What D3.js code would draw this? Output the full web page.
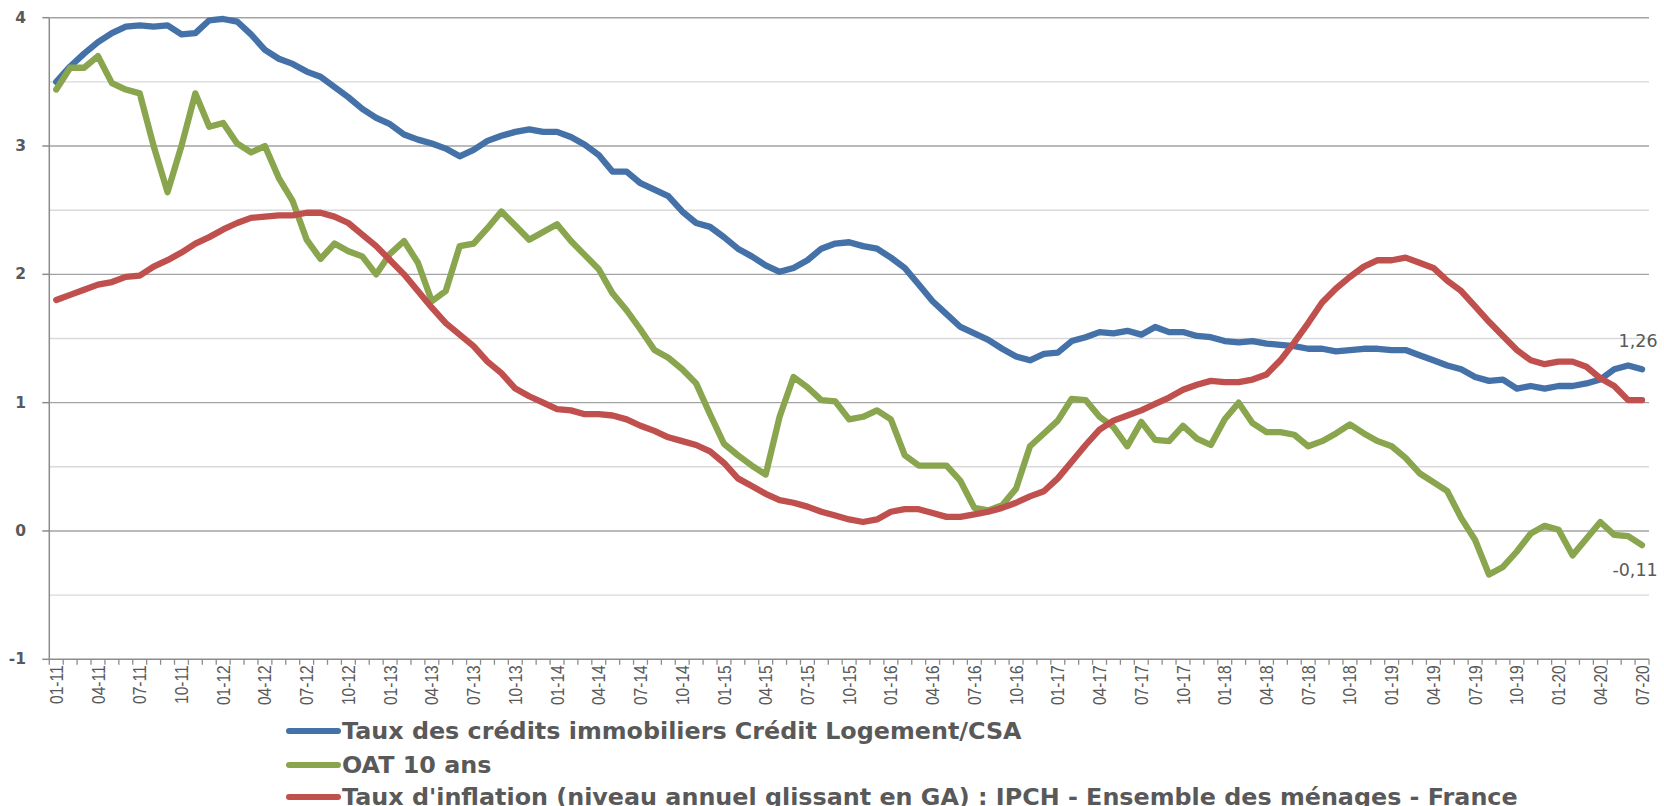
<!DOCTYPE html>
<html><head><meta charset="utf-8">
<script src="https://cdn.jsdelivr.net/npm/d3@7"></script>
<style>body{margin:0;background:#fff;} svg{display:block;}</style>
</head><body><svg id="c" width="1664" height="806"></svg>
<script>
// ---- data ----
const months = d3.timeMonth.range(new Date(2011, 0, 1), new Date(2020, 7, 1)); // 01-11 .. 07-20
const categories = months.map(d3.timeFormat("%m-%y"));
const tickLabels = categories.filter((d, i) => i % 3 === 0);

const creditRates = [3.50,3.62,3.72,3.81,3.88,3.93,3.94,3.93,3.94,3.87,3.88,3.98,3.99,3.97,3.87,3.75,3.68,3.64,3.58,3.54,
  3.46,3.38,3.29,3.22,3.17,3.09,3.05,3.02,2.98,2.92,2.97,3.04,3.08,3.11,3.13,3.11,3.11,
  3.07,3.01,2.93,2.80,2.80,2.71,2.66,2.61,2.49,2.40,2.37,2.29,2.20,2.14,2.07,2.02,2.05,2.11,2.20,2.24,
  2.25,2.22,2.20,2.13,2.05,1.92,1.79,1.69,1.59,1.54,1.49,
  1.42,1.36,1.33,1.38,1.39,1.48,1.51,
  1.55,1.54,1.56,1.53,1.59,1.55,1.55,1.52,1.51,1.48,1.47,1.48,1.46,1.45,1.44,1.42,1.42,1.40,1.41,1.42,
  1.42,1.41,1.41,1.37,1.33,1.29,1.26,1.20,1.17,1.18,1.11,1.13,1.11,1.13,1.13,1.15,1.18,1.26,1.29,1.26];

const oat10 = [3.44,3.61,3.61,3.70,3.49,3.44,3.41,3.00,2.64,3.00,3.41,3.15,3.18,3.02,2.95,3.00,2.75,2.57,2.27,2.12,
  2.24,2.18,2.14,2.00,2.16,2.26,2.09,1.79,1.87,2.22,2.24,2.36,2.49,2.38,2.27,2.33,2.39,
  2.26,2.15,2.04,1.85,1.72,1.57,
  1.41,1.35,1.26,1.15,0.91,0.68,0.59,0.51,0.44,0.89,1.20,1.12,1.02,1.01,0.87,0.89,0.94,0.87,0.59,0.51,0.51,0.51,
  0.39,0.18,0.16,0.20,0.33,0.66,0.76,0.86,1.03,1.02,0.89,
  0.81,0.66,0.85,0.71,0.70,0.82,0.72,0.67,0.87,1.00,0.84,0.77,0.77,0.75,0.66,0.70,0.76,0.83,0.76,0.70,
  0.66,0.57,0.45,0.38,0.31,0.10,-0.07,-0.34,-0.28,-0.16,-0.02,0.04,0.01,-0.19,-0.06,0.07,-0.03,-0.04,-0.11];

const inflation = [1.80,1.84,1.88,1.92,1.94,1.98,1.99,2.06,2.11,2.17,2.24,2.29,2.35,2.40,2.44,2.45,2.46,2.46,2.48,2.48,
  2.45,2.40,2.31,2.22,2.11,2.00,1.87,1.74,1.62,1.53,
  1.44,1.32,1.23,1.11,1.05,1.00,0.95,
  0.94,0.91,0.91,0.90,0.87,0.82,0.78,0.73,0.70,0.67,0.62,0.53,0.41,0.35,0.29,0.24,0.22,0.19,0.15,0.12,0.09,0.07,0.09,0.15,
  0.17,0.17,0.14,0.11,0.11,0.13,0.15,0.18,0.22,0.27,0.31,0.41,0.54,0.67,0.79,
  0.86,0.90,0.94,0.99,1.04,1.10,1.14,1.17,1.16,1.16,1.18,1.22,1.33,1.47,1.62,1.78,1.89,1.98,2.06,2.11,
  2.11,2.13,2.09,2.05,1.95,1.87,1.75,1.63,1.52,1.41,1.33,1.30,1.32,1.32,1.28,1.19,1.13,1.02,1.02];

const seriesNames = [
  "Taux des crédits immobiliers Crédit Logement/CSA",
  "OAT 10 ans",
  "Taux d'inflation (niveau annuel glissant en GA) : IPCH - Ensemble des ménages - France"
];
const seriesColors = ["#4471A8", "#89A54E", "#C0504D"];
const yTickValues = [-1, 0, 1, 2, 3, 4];
const yHalfValues = [-0.5, 0.5, 1.5, 2.5, 3.5];
const endLabels = ["1,26", "-0,11"];

// ---- drawing ----
const svg = d3.select("#c");
const plotLeft = 49.3, plotRight = 1649, plotTop = 17.7, plotBottom = 659.3;
const x = d3.scaleBand().domain(categories).range([plotLeft, plotRight]).padding(0);
const y = d3.scaleLinear().domain([-1, 4]).range([plotBottom, plotTop]);
const bw = x.bandwidth();
const cx = c => x(c) + bw / 2;

svg.append("rect").attr("width", 1664).attr("height", 806).attr("fill", "#fff");

// gridlines
svg.append("g").selectAll("line").data(yHalfValues).join("line")
  .attr("x1", plotLeft).attr("x2", plotRight).attr("y1", d => y(d)).attr("y2", d => y(d))
  .attr("stroke", "#d9d9d9").attr("stroke-width", 1.4);
svg.append("g").selectAll("line").data(yTickValues.filter(v => v > -1)).join("line")
  .attr("x1", plotLeft).attr("x2", plotRight).attr("y1", d => y(d)).attr("y2", d => y(d))
  .attr("stroke", "#a3a3a3").attr("stroke-width", 1.4);

// y axis
svg.append("line").attr("x1", plotLeft).attr("x2", plotLeft).attr("y1", plotTop).attr("y2", plotBottom)
  .attr("stroke", "#8c8c8c").attr("stroke-width", 1.5);
svg.append("g").selectAll("line").data(yTickValues).join("line")
  .attr("x1", plotLeft - 7).attr("x2", plotLeft).attr("y1", d => y(d)).attr("y2", d => y(d))
  .attr("stroke", "#8c8c8c").attr("stroke-width", 1.5);
svg.append("g").selectAll("text").data(yTickValues).join("text")
  .attr("x", 26).attr("y", d => y(d)).attr("text-anchor", "end").attr("dominant-baseline", "central")
  .attr("font-family", "DejaVu Sans, Verdana, sans-serif").attr("font-weight", "bold").attr("font-size", 15.5)
  .attr("fill", "#595959").text(d => d);

// x axis
svg.append("line").attr("x1", plotLeft).attr("x2", plotRight).attr("y1", plotBottom).attr("y2", plotBottom)
  .attr("stroke", "#8c8c8c").attr("stroke-width", 1.5);
svg.append("g").selectAll("line").data(categories.concat(["__end"])).join("line")
  .attr("x1", d => d === "__end" ? plotRight : x(d)).attr("x2", d => d === "__end" ? plotRight : x(d))
  .attr("y1", plotBottom).attr("y2", plotBottom + 5.5)
  .attr("stroke", "#8c8c8c").attr("stroke-width", 1.3);
svg.append("g").selectAll("text").data(tickLabels).join("text")
  .attr("transform", d => `translate(${cx(d)},${plotBottom + 6}) rotate(-90) scale(0.82,1)`)
  .attr("text-anchor", "end").attr("dominant-baseline", "central")
  .attr("font-family", "Liberation Sans, Arial, sans-serif").attr("font-size", 19)
  .attr("fill", "#595959").text(d => d);

// lines
const series = [creditRates, oat10, inflation];
const line = d3.line().x((d, i) => cx(categories[i])).y(d => y(d));
svg.append("g").selectAll("path").data(series).join("path")
  .attr("d", d => line(d)).attr("fill", "none")
  .attr("stroke", (d, i) => seriesColors[i]).attr("stroke-width", 6.3)
  .attr("stroke-linejoin", "round").attr("stroke-linecap", "round");

// end labels
const lastIdx = categories.length - 1;
const lastCat = categories[lastIdx];
svg.append("text").attr("x", cx(lastCat) - 4).attr("y", y(creditRates[lastIdx]) - 28)
  .attr("text-anchor", "middle").attr("dominant-baseline", "central")
  .attr("font-family", "DejaVu Sans, Verdana, sans-serif").attr("font-size", 17.5).attr("fill", "#595959")
  .text(endLabels[0]);
svg.append("text").attr("x", cx(lastCat) - 7).attr("y", y(oat10[lastIdx]) + 25)
  .attr("text-anchor", "middle").attr("dominant-baseline", "central")
  .attr("font-family", "DejaVu Sans, Verdana, sans-serif").attr("font-size", 17.5).attr("fill", "#595959")
  .text(endLabels[1]);

// legend
const legendY = [731, 765, 797];
const lg = svg.append("g");
lg.selectAll("line").data(seriesNames).join("line")
  .attr("x1", 289).attr("x2", 338).attr("y1", (d, i) => legendY[i]).attr("y2", (d, i) => legendY[i])
  .attr("stroke", (d, i) => seriesColors[i]).attr("stroke-width", 6).attr("stroke-linecap", "round");
const lt = lg.selectAll("text").data(seriesNames).join("text")
  .attr("x", 342).attr("y", (d, i) => legendY[i]).attr("dominant-baseline", "central")
  .attr("font-family", "DejaVu Sans, Verdana, sans-serif").attr("font-weight", "bold").attr("font-size", 20)
  .attr("fill", "#595959").text(d => d);
const w0 = lt.nodes()[0].getComputedTextLength();
const fs = 20 * 680 / w0;
lt.attr("font-size", fs);
</script></body></html>
